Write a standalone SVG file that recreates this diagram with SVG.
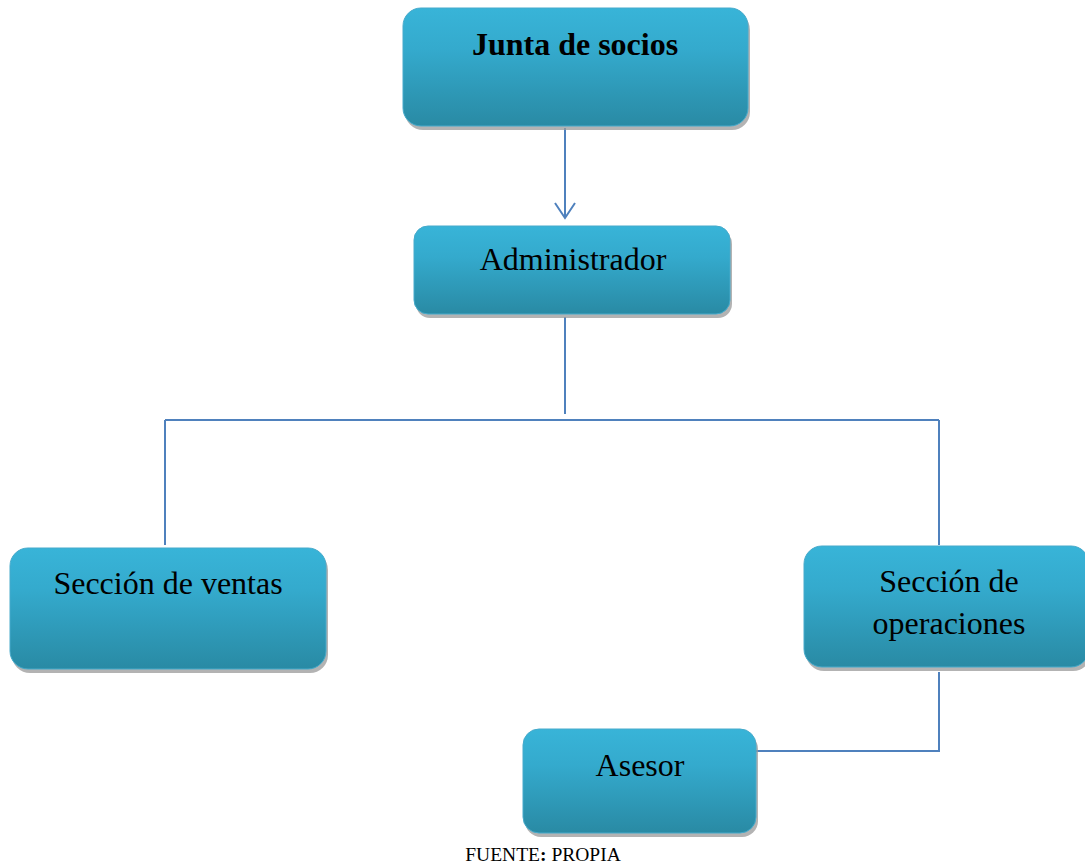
<svg xmlns="http://www.w3.org/2000/svg" width="1085" height="864" viewBox="0 0 1085 864">
<style>
.box{fill:url(#g);stroke:#46aacb;stroke-width:1}
.sh{fill:#9a9a9a;opacity:0.75}
.t{font-family:"Liberation Serif",serif;font-size:32px;fill:#000;text-anchor:middle}
.c{fill:none;stroke:#4f81bd;stroke-width:2}
</style>
<defs>
<linearGradient id="g" x1="0" y1="0" x2="0" y2="1">
<stop offset="0" stop-color="#38b4d8"/>
<stop offset="0.35" stop-color="#34aacd"/>
<stop offset="1" stop-color="#298aa4"/>
</linearGradient>
</defs>
<rect width="1085" height="864" fill="#fff"/>
<g id="connectors">
<path class="c" d="M565 128V217"/>
<path class="c" d="M555 203L565 218L575 203"/>
<path class="c" d="M565 317V414"/>
<path class="c" d="M165 420H939"/>
<path class="c" d="M165 420V545"/>
<path class="c" d="M939 420V545"/>
<path class="c" d="M939 672V751H756"/>
</g>
<g id="junta">
<rect class="sh" x="405" y="12" width="345" height="118" rx="18"/>
<rect class="box" x="403" y="8" width="345" height="118" rx="18"/>
<text class="t" x="575" y="55" font-weight="bold">Junta de socios</text>
</g>
<g id="administrador">
<rect class="sh" x="416" y="230" width="316" height="88" rx="14"/>
<rect class="box" x="414" y="226" width="316" height="88" rx="14"/>
<text class="t" x="573" y="270">Administrador</text>
</g>
<g id="ventas">
<rect class="sh" x="12" y="552" width="316" height="121" rx="18"/>
<rect class="box" x="10" y="548" width="316" height="121" rx="18"/>
<text class="t" x="168" y="594">Sección de ventas</text>
</g>
<g id="operaciones">
<rect class="sh" x="806" y="550" width="285" height="121" rx="18"/>
<rect class="box" x="804" y="546" width="285" height="121" rx="18"/>
<text class="t" x="949" y="592">Sección de</text>
<text class="t" x="949" y="634">operaciones</text>
</g>
<g id="asesor">
<rect class="sh" x="525" y="733" width="233" height="104" rx="16"/>
<rect class="box" x="523" y="729" width="233" height="104" rx="16"/>
<text class="t" x="640" y="776">Asesor</text>
</g>
<text x="543" y="861" font-family="Liberation Serif,serif" font-size="19.5" text-anchor="middle">FUENTE<tspan font-weight="bold">:</tspan> PROPIA</text>
</svg>
